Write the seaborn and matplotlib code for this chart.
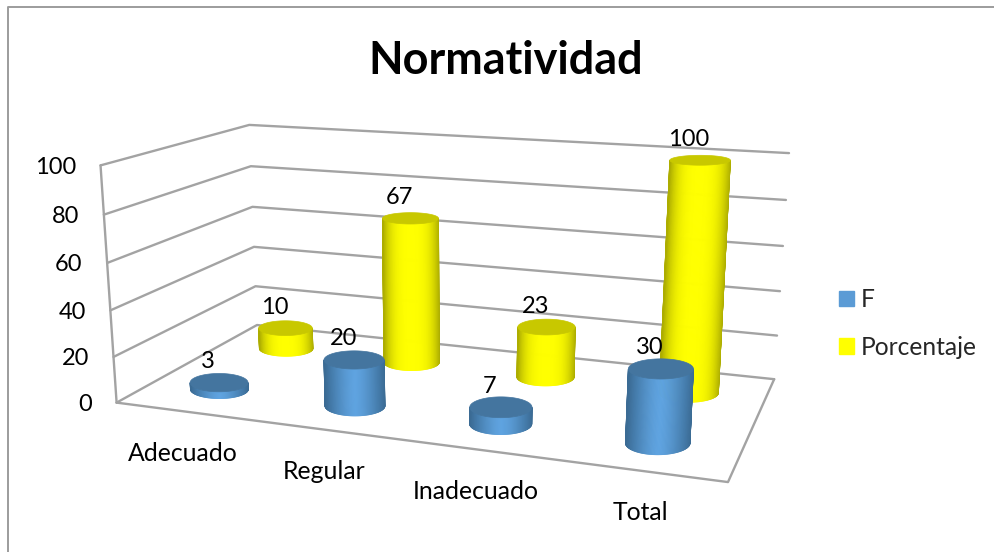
import numpy as np
import pandas as pd
import matplotlib
matplotlib.use('Agg')
import matplotlib.pyplot as plt
from matplotlib.collections import PolyCollection
from matplotlib.patches import Patch
import seaborn as sns

categories = ['Adecuado', 'Regular', 'Inadecuado', 'Total']
f_values = [3, 20, 7, 30]
pct_values = [10, 67, 23, 100]
series_names = ['F', 'Porcentaje']
z_ticks = [0, 20, 40, 60, 80, 100]

# where the chart box corners sit on the image, used to calibrate the 3d view
left_front = [(117, 403), (113, 357), (110, 310), (107, 263), (104, 214), (101, 166)]
left_back = [(257, 325), (256, 286), (254, 247), (252, 207), (251, 166), (249, 125)]
right_back = [(774, 379), (777, 336), (780, 291), (783, 246), (786, 200), (789, 153)]
right_front_floor = (728, 482)

sns.set_style('white')
plt.rcParams['font.family'] = ['Lato', 'DejaVu Sans']
blue, yellow = sns.color_palette(['#5b9bd5', '#ffff00'])


def fit_camera():
    world, img = [], []
    for i, z in enumerate(z_ticks):
        world += [(0, 0, z), (0, 1, z), (4, 1, z)]
        img += [left_front[i], left_back[i], right_back[i]]
    world.append((4, 0, 0))
    img.append(right_front_floor)
    rows = []
    for (x, y, z), (u, v) in zip(world, img):
        p = [x, y, z / 100, 1]
        rows.append(p + [0, 0, 0, 0] + [-u * c for c in p])
        rows.append([0, 0, 0, 0] + p + [-v * c for c in p])
    m = np.linalg.svd(np.array(rows, dtype=float))[2][-1].reshape(3, 4)
    if m[2] @ np.array([2, 0.5, 0.5, 1]) < 0:
        m = -m
    return m


P = fit_camera()


def project(x, y, z):
    x, y, z = np.broadcast_arrays(x, y, z)
    pts = P @ np.vstack([x.ravel(), y.ravel(), z.ravel() / 100, np.ones(x.size)])
    return pts[0] / pts[2], pts[1] / pts[2], pts[2]


def mix(a, b, t):
    return tuple(np.array(a) * (1 - t) + np.array(b) * t)


def ring(cx, cy, z, th, rx):
    # circle drawn level on screen, sized from the local scale of the floor
    ry = 0.105
    sx, sy, _ = project(cx, cy, z)
    x0, _, _ = project(cx - 0.5, cy, z)
    x1, _, _ = project(cx + 0.5, cy, z)
    _, y0, _ = project(cx, cy - 0.5, z)
    _, y1, _ = project(cx, cy + 0.5, z)
    a = rx * 155 * (abs(x1 - x0) / 155) ** 0.5
    return sx + a * np.cos(th), sy + ry * abs(y1 - y0) * np.sin(th)


def cylinder(ax, cx, cy, value, rx, center, edge, top, power, order):
    th = np.linspace(0, np.pi, 91)
    bx, by = ring(cx, cy, 0, th, rx)
    tx, ty = ring(cx, cy, value, th, rx)
    quads, cols = [], []
    for i in range(len(th) - 1):
        quads.append([(bx[i], by[i]), (bx[i + 1], by[i + 1]), (tx[i + 1], ty[i + 1]), (tx[i], ty[i])])
        s = abs(np.cos((th[i] + th[i + 1]) / 2))
        cols.append(mix(center, edge, s ** power))
    ax.add_collection(PolyCollection(quads, facecolors=cols, edgecolors='face', linewidths=0.6, zorder=order))
    ex, ey = ring(cx, cy, value, np.linspace(0, 2 * np.pi, 121), rx)
    ax.fill(ex, ey, color=top, lw=0.5, zorder=order + 0.1)


fig, ax = plt.subplots(figsize=(9.95, 5.52), dpi=100)
ax.set_position([0, 0, 1, 1])
ax.axis('off')

# outer chart border, only top and left are in the crop
ax.plot([8, 8, 995], [552, 7, 7], color='#9c9c9c', lw=1.4, zorder=1)

rows = []
for i, z in enumerate(z_ticks):
    for x, y in [(0, 0), (0, 1), (4, 1)]:
        rows.append((f'grid{z}', x, y, z))
for x, y in [(0, 0), (4, 0), (4, 1)]:
    rows.append(('floor', x, y, 0))
rows += [('wall', 0, 0, 0), ('wall', 0, 0, 100)]
grid = pd.DataFrame(rows, columns=['line', 'x', 'y', 'z'])
grid['px'], grid['py'], _ = project(grid['x'].values, grid['y'].values, grid['z'].values)
sns.lineplot(data=grid, x='px', y='py', units='line', estimator=None, sort=False,
             color='#a3a3a3', lw=1.7, ax=ax, legend=False, zorder=2)
ax.set_xlim(0, 995)
ax.set_ylim(552, 0)

depth_f, depth_p = 0.24, 0.75
marks = []
for k in range(4):
    marks.append((k + 0.5, depth_p, pct_values[k], 'p'))
    marks.append((k + 0.5, depth_f, f_values[k], 'f'))
marks.sort(key=lambda m: -project(m[0], m[1], 0)[2][0])
for o, (cx, cy, val, kind) in enumerate(marks):
    if kind == 'f':
        cylinder(ax, cx, cy, val, 0.203, (0.37, 0.64, 0.88), (0.23, 0.42, 0.58), '#44759f', 1.4, 3 + o)
    else:
        cylinder(ax, cx, cy, val, 0.195, yellow, (0.68, 0.68, 0.0), '#c8c800', 3.0, 3 + o)
    lx, ly, _ = project(cx, cy, val)
    ax.text(lx[0] - 11, ly[0] - 21, str(val), fontsize=17, ha='center', va='center', color='black', zorder=40)

for z in z_ticks:
    lx, ly, _ = project(0, 0, z)
    ax.text(lx[0] - 24.5, ly[0] + 2, str(z), fontsize=17, ha='right', va='center', color='black')

for k, name in enumerate(categories):
    lx, ly, _ = project(k + 0.5, 0, 0)
    ax.text(lx[0], ly[0] + 42, name, fontsize=17.8, ha='center', va='center', color='black')

ax.text(506, 61, 'Normatividad', fontsize=32.4, fontweight='bold', ha='center', va='center', color='black')

ax.legend(handles=[Patch(color=blue, label=series_names[0]), Patch(color=yellow, label=series_names[1])],
          loc='center left', bbox_to_anchor=(839 / 995, 1 - 323.5 / 552), frameon=False, fontsize=17.7,
          handlelength=0.61, handleheight=0.61, handletextpad=0.26, labelspacing=1.0, borderpad=0, borderaxespad=0)

fig.savefig('out.png', dpi=100)
